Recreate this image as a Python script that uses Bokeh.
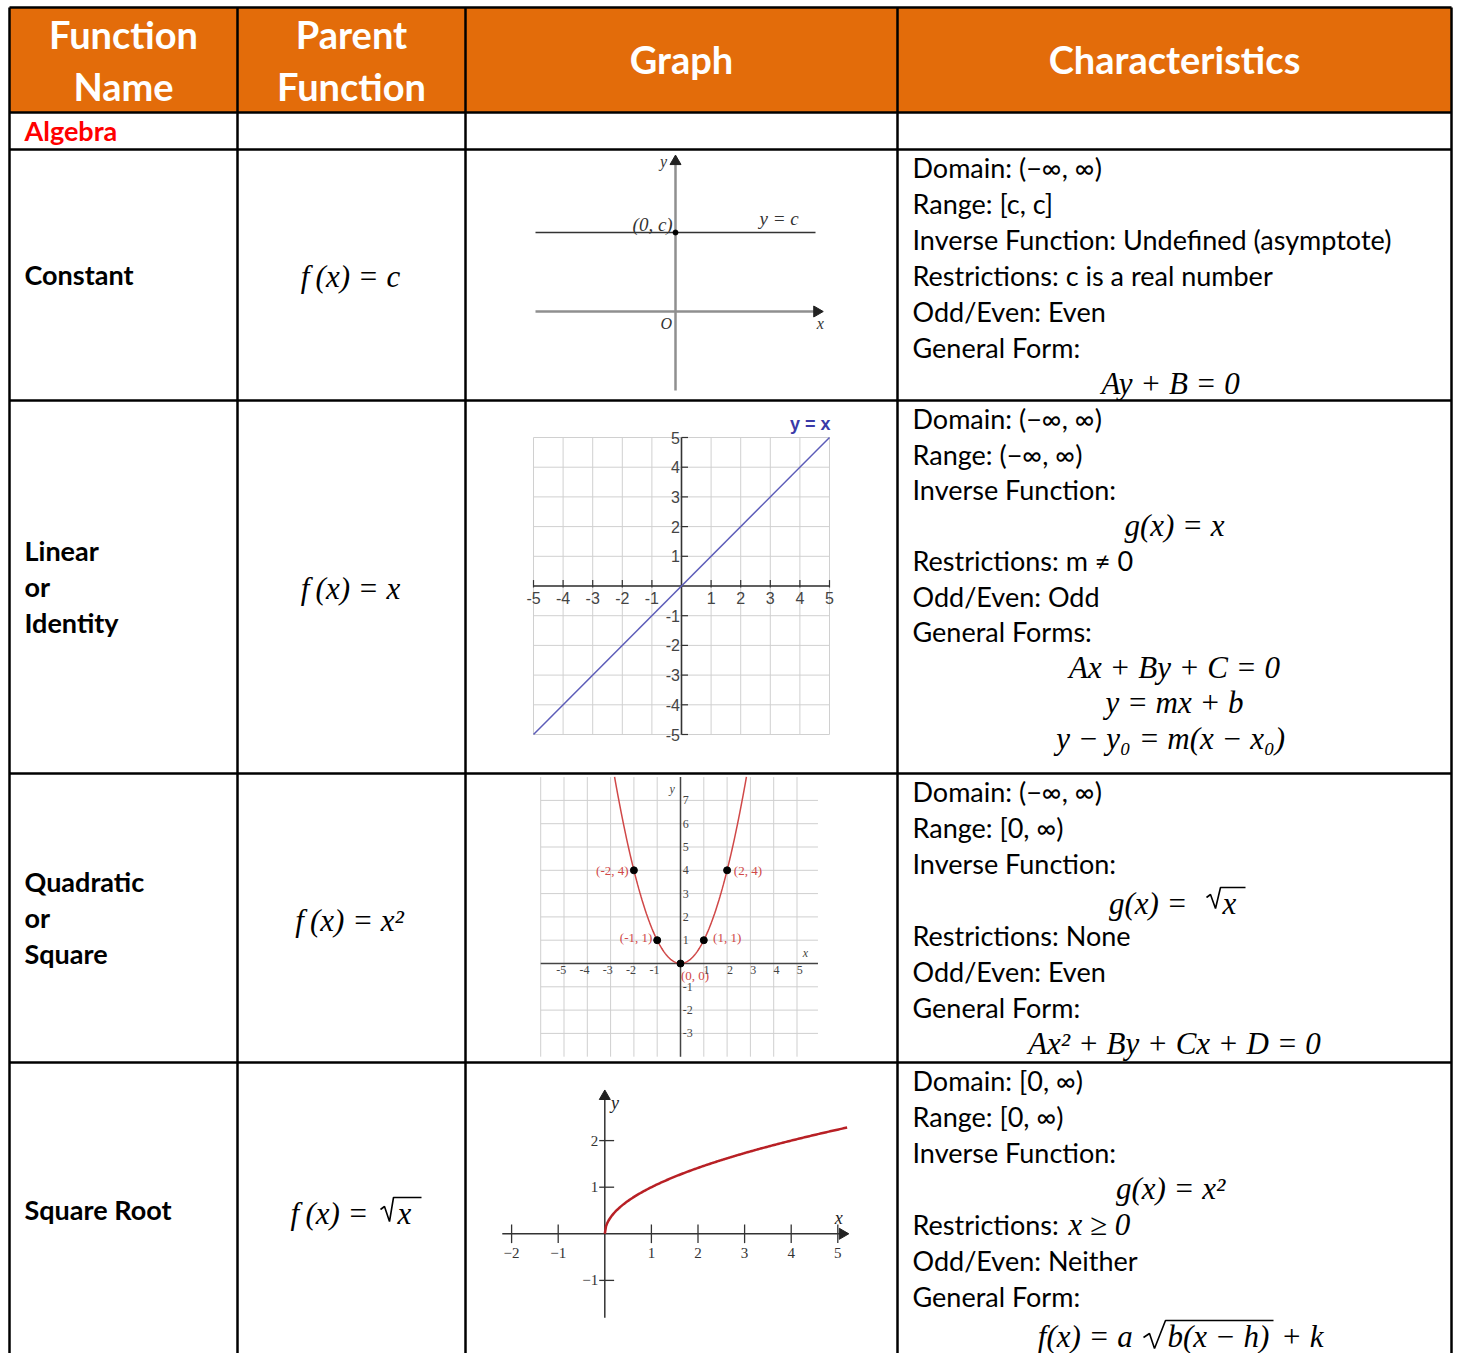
import numpy as np
from bokeh.plotting import figure
from bokeh.models import Range1d
from bokeh.core.properties import value
from bokeh.embed import file_html
from bokeh.resources import INLINE

# ---------------- data ----------------
headers = ["Function\nName", "Parent\nFunction", "Graph", "Characteristics"]
section = "Algebra"
func_names = [["Constant"], ["Linear", "or", "Identity"], ["Quadratic", "or", "Square"], ["Square Root"]]
parent_funcs = ["f\u2009(x) = c", "f\u2009(x) = x", "f\u2009(x) = x²"]

characteristics = [
    [("Domain: (−∞, ∞)", "t"), ("Range: [c, c]", "t"),
     ("Inverse Function: Undefined (asymptote)", "t"),
     ("Restrictions: c is a real number", "t"), ("Odd/Even: Even", "t"),
     ("General Form:", "t"), ("Ay + B  = 0", "m")],
    [("Domain: (−∞, ∞)", "t"), ("Range: (−∞, ∞)", "t"), ("Inverse Function:", "t"),
     ("g(x) = x", "m"), ("Restrictions: m ≠ 0", "t"), ("Odd/Even: Odd", "t"),
     ("General Forms:", "t"), ("Ax + By + C = 0", "m"), ("y = mx + b", "m"),
     ("y −  y₀ = m(x − x₀)", "m")],
    [("Domain: (−∞, ∞)", "t"), ("Range: [0, ∞)", "t"), ("Inverse Function:", "t"),
     ("", "r"), ("Restrictions: None", "t"), ("Odd/Even: Even", "t"),
     ("General Form:", "t"), ("Ax² + By + Cx + D = 0", "m")],
    [("Domain: [0, ∞)", "t"), ("Range: [0, ∞)", "t"), ("Inverse Function:", "t"),
     ("g(x) =  x²", "m"), ("Restrictions: ", "t"), ("Odd/Even: Neither", "t"),
     ("General Form:", "t"), ("", "r")],
]
restriction_math = "x ≥ 0"
# expressions containing a radical: text before the radical / under it / after it
rad_before = ["f\u2009(x) =", "g(x) =", "f(x) =  a"]
rad_under = ["x", "x", "b(x − h)"]
rad_after = ["", "", "+ k"]

# constant graph
const_c = 2.0
const_x = [-5, 5]
# linear graph
lin_x = [-5, 5]
lin_ticks = [-5, -4, -3, -2, -1, 1, 2, 3, 4, 5]
# quadratic graph
quad_x = np.linspace(-2.83, 2.83, 121)
quad_pts_x = [-2, -1, 0, 1, 2]
quad_pts_lbl = ["(-2, 4)", "(-1, 1)", "(0, 0)", "(1, 1)", "(2, 4)"]
quad_xticks = [-5, -4, -3, -2, -1, 1, 2, 3, 4, 5]
quad_yticks = [-3, -2, -1, 1, 2, 3, 4, 5, 6, 7]
# square-root graph
sq_x = np.linspace(0, 5.2, 200)
sq_xticks = [-2, -1, 1, 2, 3, 4, 5]
sq_yticks = [-1, 1, 2]

# ---------------- layout ----------------
W, H = 1458, 1353
ORANGE = "#E36C0A"
BODY = value("Lato")
MATH = value("Liberation Serif")
SERIF = value("Liberation Serif")
SANS = value("Liberation Sans")

p = figure(width=W, height=H, x_range=Range1d(0, W), y_range=Range1d(H, 0),
           output_backend="svg", toolbar_location=None, min_border=0,
           x_axis_location=None, y_axis_location=None)
p.grid.visible = False
p.outline_line_color = None

col_edges = [9, 237, 465, 897, 1451]
row_edges = [7, 112, 149, 400, 773, 1062]
col_centers = [(a + b) / 2 for a, b in zip(col_edges[:-1], col_edges[1:])]

# header background
p.quad(left=[col_edges[0]], right=[col_edges[-1]], top=[row_edges[0]], bottom=[row_edges[1]],
       fill_color=ORANGE, line_color=None)

# header text
hx, hy, ht = [], [], []
for cx, h in zip(col_centers, headers):
    parts = h.split("\n")
    if len(parts) == 2:
        hx += [cx, cx]; hy += [33, 85]; ht += parts
    else:
        hx.append(cx); hy.append(58); ht.append(h)
p.text(x=hx, y=hy, text=ht, text_color="white", text_font=BODY, text_font_style="bold",
       text_font_size="38px", text_align="center", text_baseline="middle")

p.text(x=[24], y=[130], text=[section], text_color="#FF0000", text_font=BODY,
       text_font_style="bold", text_font_size="27px", text_baseline="middle")

# table rules
seg_x0, seg_y0, seg_x1, seg_y1 = [], [], [], []
for cxe in col_edges:
    seg_x0.append(cxe); seg_x1.append(cxe); seg_y0.append(row_edges[0]); seg_y1.append(H + 5)
for rye in row_edges:
    seg_x0.append(col_edges[0]); seg_x1.append(col_edges[-1]); seg_y0.append(rye); seg_y1.append(rye)
p.segment(x0=seg_x0, y0=seg_y0, x1=seg_x1, y1=seg_y1, line_color="black", line_width=2.5)

# function names
name_centers = [274, 586, 917, 1209]
nx, ny, nt = [], [], []
for yc, names in zip(name_centers, func_names):
    n = len(names)
    for i, nm in enumerate(names):
        nx.append(24); ny.append(yc + (i - (n - 1) / 2) * 36); nt.append(nm)
p.text(x=nx, y=ny, text=nt, text_font=BODY, text_font_style="bold", text_font_size="27px",
       text_baseline="middle", text_color="black")

# parent functions
p.text(x=[350, 350, 349], y=[276, 588, 920], text=parent_funcs, text_font=MATH,
       text_font_style="italic", text_font_size="31px", text_align="center",
       text_baseline="middle", text_color="black")

# characteristics
starts = [167, 418, 791, 1080]
steps = [36, 35.5, 36, 36]
tx, ty, tt, mx, my, mt = [], [], [], [], [], []
for s, st, lines in zip(starts, steps, characteristics):
    for i, (txt, kind) in enumerate(lines):
        if kind == "t":
            tx.append(912); ty.append(s + i * st); tt.append(txt)
        elif kind == "m":
            mx.append(1174); my.append(s + i * st); mt.append(txt)
p.text(x=tx, y=ty, text=tt, text_font=BODY, text_font_size="27px", text_baseline="middle",
       text_color="black")
p.text(x=mx, y=my, text=mt, text_font=MATH, text_font_style="italic", text_font_size="31px",
       text_align="center", text_baseline="middle", text_color="black")
p.text(x=[1068], y=[1080 + 4 * 36], text=[restriction_math], text_font=MATH,
       text_font_style="italic", text_font_size="31px", text_baseline="middle", text_color="black")

# radical expressions (parent sqrt, inverse of quadratic, general form of sqrt)
rad_y = [1213, 903, 1336]
p.text(x=[368, 1187, 1140], y=rad_y, text=rad_before, text_font=MATH, text_font_style="italic",
       text_font_size="31px", text_align="right", text_baseline="middle", text_color="black")
p.text(x=[397, 1222, 1167], y=rad_y, text=rad_under, text_font=MATH, text_font_style="italic",
       text_font_size="31px", text_align="left", text_baseline="middle", text_color="black")
p.text(x=[1323], y=[1336], text=[rad_after[2]], text_font=MATH, text_font_style="italic",
       text_font_size="31px", text_align="right", text_baseline="middle", text_color="black")
p.multi_line(xs=[[380, 384, 389, 393, 421], [1206, 1210, 1215, 1220, 1245], [1143, 1149, 1154, 1165, 1273]],
             ys=[[1209, 1206, 1221, 1197, 1197], [897, 894, 908, 887, 887], [1337, 1333, 1348, 1320, 1320]],
             line_color="black", line_width=1.6)

# ---------------- graph 1 : constant ----------------
g1 = p.subplot(x_source=Range1d(-5, 5), y_source=Range1d(-2, 2),
               x_target=Range1d(535, 815), y_target=Range1d(390, 232))
g1.segment(x0=[-5, 0], y0=[0, -2], x1=[5.0, 0], y1=[0, 3.75], line_color="#8f8f8f", line_width=2.5)
g1.scatter(x=[5.05], y=[0], marker="triangle", size=11, angle=-np.pi / 2, color="#222222")
g1.scatter(x=[0], y=[3.8], marker="triangle", size=11, color="#222222")
g1.line(x=const_x, y=[const_c, const_c], line_color="#333333", line_width=1.6)
g1.scatter(x=[0], y=[const_c], size=5, color="black")
g1.text(x=[-0.1, 4.4], y=[const_c + 0.2, const_c + 0.35], text=["(0, c)", "y = c"], text_font=SERIF,
        text_font_style="italic", text_font_size="19px", text_align="right", text_baseline="middle",
        text_color="#333333")
g1.text(x=[-0.12, 5.3, -0.3], y=[-0.3, -0.3, 3.8], text=["O", "x", "y"], text_font=SERIF,
        text_font_style="italic", text_font_size="16px", text_align="right", text_baseline="middle",
        text_color="#333333")

# ---------------- graph 2 : linear ----------------
g2 = p.subplot(x_source=Range1d(-5, 5), y_source=Range1d(-5, 5),
               x_target=Range1d(533, 829), y_target=Range1d(734, 437))
gl = list(range(-5, 6))
g2.segment(x0=gl, y0=[-5] * 11, x1=gl, y1=[5] * 11, line_color="#d0d0d0", line_width=1)
g2.segment(x0=[-5] * 11, y0=gl, x1=[5] * 11, y1=gl, line_color="#d0d0d0", line_width=1)
g2.segment(x0=[-5, 0], y0=[0, -5], x1=[5, 0], y1=[0, 5], line_color="#333333", line_width=1.6)
g2.segment(x0=lin_ticks, y0=[-0.05] * 10, x1=lin_ticks, y1=[0.2] * 10, line_color="#333333", line_width=1.2)
g2.segment(x0=[0] * 10, y0=lin_ticks, x1=[0.22] * 10, y1=lin_ticks, line_color="#333333", line_width=1.2)
g2.text(x=lin_ticks, y=[-0.42] * 10, text=[str(t) for t in lin_ticks], text_font=SANS,
        text_font_size="16px", text_align="center", text_baseline="middle", text_color="#444444")
g2.text(x=[-0.05] * 10, y=lin_ticks, text=[str(t) for t in lin_ticks], text_font=SANS,
        text_font_size="16px", text_align="right", text_baseline="middle", text_color="#444444")
g2.line(x=lin_x, y=lin_x, line_color="#5c5cb8", line_width=1.5)
g2.text(x=[4.35], y=[5.45], text=["y = x"], text_font=SANS, text_font_style="bold",
        text_font_size="18px", text_align="center", text_baseline="middle", text_color="#3a3aa8")

# ---------------- graph 3 : quadratic ----------------
g3 = p.subplot(x_source=Range1d(-6, 6), y_source=Range1d(-4, 8),
               x_target=Range1d(540.2, 819.8), y_target=Range1d(1056.2, 776.6))
vx = list(range(-6, 6))
hy3 = list(range(-3, 8))
g3.segment(x0=vx, y0=[-4] * len(vx), x1=vx, y1=[8] * len(vx), line_color="#cfcfcf", line_width=1)
g3.segment(x0=[-6] * len(hy3), y0=hy3, x1=[5.9] * len(hy3), y1=hy3, line_color="#cfcfcf", line_width=1)
g3.segment(x0=[-6, 0], y0=[0, -4], x1=[5.9, 0], y1=[0, 8], line_color="#444444", line_width=1.5)
g3.line(x=quad_x, y=quad_x ** 2, line_color="#d04848", line_width=1.5)
g3.scatter(x=quad_pts_x, y=[v * v for v in quad_pts_x], size=7, color="black")
g3.text(x=[-2.23, -1.21], y=[4.0, 1.1], text=[quad_pts_lbl[0], quad_pts_lbl[1]],
        text_font=SERIF, text_font_size="13px", text_align="right",
        text_baseline="middle", text_color="#d04848")
g3.text(x=[2.29, 1.4, 0.02], y=[4.0, 1.1, -0.5], text=[quad_pts_lbl[4], quad_pts_lbl[3], quad_pts_lbl[2]],
        text_font=SERIF, text_font_size="13px", text_align="left",
        text_baseline="middle", text_color="#d04848")
g3.text(x=[t + (0.12 if t > 0 else -0.12) for t in quad_xticks], y=[-0.3] * 10,
        text=[str(t) for t in quad_xticks], text_font=SERIF, text_font_size="12px",
        text_align="center", text_baseline="middle", text_color="#444444")
g3.text(x=[0.1] * 10, y=quad_yticks, text=[str(t) for t in quad_yticks],
        text_font=SERIF, text_font_size="12px", text_align="left",
        text_baseline="middle", text_color="#444444")
g3.text(x=[-0.36, 5.36], y=[7.5, 0.43], text=["y", "x"], text_font=SERIF,
        text_font_style="italic", text_font_size="12px", text_align="center",
        text_baseline="middle", text_color="#444444")

# ---------------- graph 4 : square root ----------------
g4 = p.subplot(x_source=Range1d(-2, 5), y_source=Range1d(-1, 2),
               x_target=Range1d(511.1, 837.3), y_target=Range1d(1279.9, 1140.1))
g4.segment(x0=[-2.2, 0], y0=[0, -1.8], x1=[5.05, 0], y1=[0, 2.9], line_color="#333333", line_width=1.5)
g4.scatter(x=[5.1], y=[0], marker="triangle", size=11, angle=-np.pi / 2, color="#222222")
g4.scatter(x=[0], y=[2.95], marker="triangle", size=11, color="#222222")
g4.segment(x0=sq_xticks, y0=[-0.2] * 7, x1=sq_xticks, y1=[0.2] * 7, line_color="#333333", line_width=1.3)
g4.segment(x0=[-0.12] * 3, y0=sq_yticks, x1=[0.2] * 3, y1=sq_yticks, line_color="#333333", line_width=1.3)
g4.line(x=sq_x, y=np.sqrt(sq_x), line_color="#b82025", line_width=2.5)
g4.text(x=sq_xticks, y=[-0.42] * 7, text=[("−" + str(-t)) if t < 0 else str(t) for t in sq_xticks],
        text_font=SERIF, text_font_size="15px", text_align="center",
        text_baseline="middle", text_color="#333333")
g4.text(x=[-0.14] * 3, y=sq_yticks, text=[("−" + str(-t)) if t < 0 else str(t) for t in sq_yticks],
        text_font=SERIF, text_font_size="15px", text_align="right",
        text_baseline="middle", text_color="#333333")
g4.text(x=[5.02, 0.22], y=[0.33, 2.8], text=["x", "y"], text_font=SERIF,
        text_font_style="italic", text_font_size="18px", text_align="center",
        text_baseline="middle", text_color="#222222")

open("out.html", "w").write(file_html(p, INLINE))
